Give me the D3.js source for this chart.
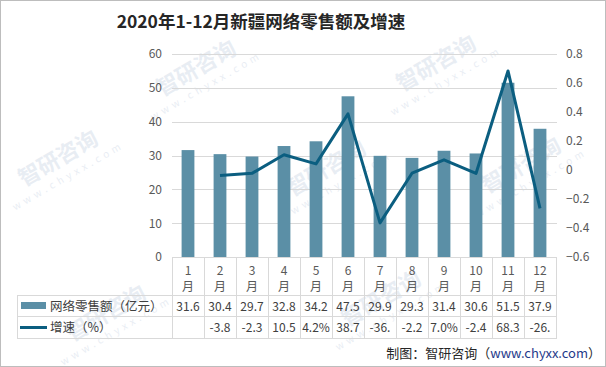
<!DOCTYPE html>
<html><head><meta charset="utf-8">
<script src="https://cdn.jsdelivr.net/npm/d3@7"></script>
<style>
body{margin:0;background:#fff;}
svg{display:block;font-family:"Noto Sans CJK SC","Microsoft YaHei",sans-serif;}
</style></head>
<body><svg id="c" width="606" height="367"></svg>
<script>
const months = ["1","2","3","4","5","6","7","8","9","10","11","12"];
const sales = [31.6,30.4,29.7,32.8,34.2,47.5,29.9,29.3,31.4,30.6,51.5,37.9];
const growth = [null,-0.038,-0.023,0.105,0.042,0.387,-0.365,-0.022,0.070,-0.024,0.683,-0.265];
const growthLabels = ["","-3.8","-2.3","10.5","4.2%","38.7","-36.","-2.2","7.0%","-2.4","68.3","-26."];
const leftTicks = [0,10,20,30,40,50,60];
const rightTicks = [-0.6,-0.4,-0.2,0,0.2,0.4,0.6,0.8];
const seriesNames = ["网络零售额（亿元）","增速（%）"];
const title = "2020年1-12月新疆网络零售额及增速";

const barColor = "#5b8fa6", lineColor = "#0b5e80", grid = "#d9d9d9", txt = "#595959";
const svg = d3.select("#c");
svg.append("rect").attr("x",0.5).attr("y",0.5).attr("width",605).attr("height",366)
  .attr("fill","#fff").attr("stroke","#bdbdbd");

// watermarks
const wm = [[200,75],[440,70],[62,165],[330,175],[525,172],[110,320],[385,305]];
wm.forEach(([x,y])=>{
  const g = svg.append("g").attr("transform",`translate(${x},${y}) rotate(-30)`).attr("opacity",0.12);
  g.append("text").attr("text-anchor","middle").attr("font-size",22).attr("font-weight","bold").attr("fill","#4a6fa5").text("智研咨询");
  g.append("text").attr("y",16).attr("text-anchor","middle").attr("font-size",10).attr("letter-spacing",4).attr("fill","#4a6fa5").text("www.chyxx.com");
});

const x = d3.scaleBand().domain(months).range([172,556]).paddingInner(0.6).paddingOuter(0.3);
const yL = d3.scaleLinear().domain([0,60]).range([257,54]);
const yR = d3.scaleLinear().domain([-0.6,0.8]).range([257,54]);
const step = x.step();

// title
svg.append("text").attr("x",261).attr("y",28).attr("text-anchor","middle")
  .attr("font-size",17.5).attr("font-weight","bold").attr("fill","#262626").text(title);

// grid
svg.append("g").selectAll("line").data(leftTicks.slice(1)).join("line")
  .attr("x1",172).attr("x2",557).attr("y1",d=>Math.round(yL(d))+0.5).attr("y2",d=>Math.round(yL(d))+0.5)
  .attr("stroke",grid);

// left axis
const la = svg.append("g").attr("transform","translate(162,0)")
  .call(d3.axisLeft(yL).tickValues(leftTicks).tickSize(0).tickPadding(0));
la.select(".domain").remove();
la.selectAll("text").attr("fill",txt).attr("font-size",12).attr("font-family","Noto Sans CJK SC, sans-serif");

// right axis
const ra = svg.append("g").attr("transform","translate(566,0)")
  .call(d3.axisRight(yR).tickValues(rightTicks).tickSize(0).tickPadding(0).tickFormat(d=>d===0?"0":d3.format(".1f")(d)));
ra.select(".domain").remove();
ra.selectAll("text").attr("fill",txt).attr("font-size",12).attr("font-family","Noto Sans CJK SC, sans-serif");

// bars
svg.append("g").selectAll("rect").data(sales).join("rect")
  .attr("x",(d,i)=>x(months[i])).attr("width",x.bandwidth())
  .attr("y",d=>yL(d)).attr("height",d=>yL(0)-yL(d)).attr("fill",barColor);

// line
const line = d3.line().defined(d=>d[1]!==null)
  .x(d=>x(d[0])+x.bandwidth()/2).y(d=>yR(d[1]));
svg.append("path").datum(months.map((m,i)=>[m,growth[i]]))
  .attr("d",line).attr("fill","none").attr("stroke",lineColor).attr("stroke-width",3).attr("stroke-linejoin","round");

// table
const tb = svg.append("g");
const bounds = months.map(m=>x(m)+x.bandwidth()/2-step/2).concat([x(months[11])+x.bandwidth()/2+step/2]);
tb.append("line").attr("x1",172).attr("x2",557).attr("y1",257.5).attr("y2",257.5).attr("stroke",grid);
bounds.forEach((b,i)=>{
  tb.append("line").attr("x1",Math.round(b)+0.5).attr("x2",Math.round(b)+0.5)
    .attr("y1",257).attr("y2",338).attr("stroke",grid);
});
tb.append("line").attr("x1",17.5).attr("x2",17.5).attr("y1",295).attr("y2",338).attr("stroke",grid);
[295.5,316.5,338.5].forEach(y=>tb.append("line").attr("x1",17).attr("x2",557).attr("y1",y).attr("y2",y).attr("stroke",grid));

months.forEach((m,i)=>{
  const cx = x(m)+x.bandwidth()/2;
  tb.append("text").attr("x",cx).attr("y",274.5).attr("text-anchor","middle").attr("font-size",12).attr("fill",txt).text(m);
  tb.append("text").attr("x",cx).attr("y",290.5).attr("text-anchor","middle").attr("font-size",12).attr("fill",txt).text("月");
  tb.append("text").attr("x",cx).attr("y",311).attr("text-anchor","middle").attr("font-size",12).attr("fill","#404040").text(sales[i]);
  tb.append("text").attr("x",cx).attr("y",332).attr("text-anchor","middle").attr("font-size",12).attr("fill","#404040").text(growthLabels[i]);
});

// legend in table
tb.append("rect").attr("x",21).attr("y",302).attr("width",25).attr("height",7).attr("fill",barColor);
tb.append("text").attr("x",50).attr("y",311).attr("font-size",12.5).attr("fill","#404040").text(seriesNames[0]);
tb.append("line").attr("x1",20).attr("x2",47).attr("y1",327.5).attr("y2",327.5).attr("stroke",lineColor).attr("stroke-width",3);
tb.append("text").attr("x",50).attr("y",332).attr("font-size",12.5).attr("fill","#404040").text(seriesNames[1]);

// footer
const ft = svg.append("text").attr("x",601).attr("y",358).attr("text-anchor","end").attr("font-size",13).attr("fill","#262626");
ft.append("tspan").text("制图：智研咨询（");
ft.append("tspan").attr("fill","#1f3a8a").text("www.chyxx.com");
ft.append("tspan").text("）");
</script></body></html>
